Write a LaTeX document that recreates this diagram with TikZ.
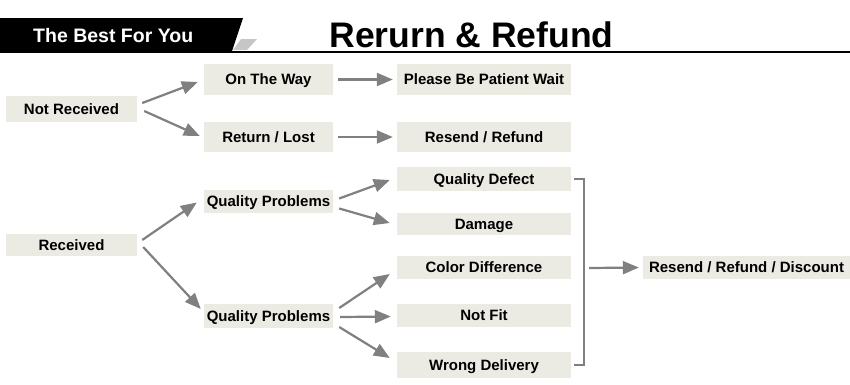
\documentclass[tikz,border=0pt]{standalone}
\usepackage{fontspec}
\setmainfont{Liberation Sans}
\usetikzlibrary{arrows.meta,calc}
\definecolor{boxfill}{HTML}{ECEBE3}
\definecolor{arrgray}{HTML}{808080}
\tikzset{
  box/.style={fill=boxfill, inner sep=0pt, text height=10.7pt, text depth=0pt, font=\fontsize{15}{18}\selectfont\bfseries, text=black},
  arr/.style={draw=arrgray, line width=2.2pt, -{Triangle[length=16pt,width=13pt]}},
  brk/.style={draw=arrgray, line width=1.6pt},
}
\begin{document}
\begin{tikzpicture}[x=1pt,y=-1pt]
\useasboundingbox (0,0) rectangle (850,384);
% header
\fill[black] (0,18) -- (243,18) -- (232,51) -- (0,51) -- cycle;
\fill[gray!45] (241,39) -- (257,39) -- (247,50) -- (233,50) -- cycle;
\draw[black, line width=2pt] (0,51.5) -- (850,51.5);
\node[anchor=base west, inner sep=0pt, text=white, font=\fontsize{19.5}{22}\selectfont\bfseries] (best) at (33,42) {The Best For You};
\node[anchor=base, inner sep=0pt, font=\fontsize{35.5}{40}\selectfont\bfseries] (title) at (471.5,47) {Rerurn \& Refund};
% nodes
\node[box, minimum width=131, minimum height=26] (nr) at (71.5,109) {Not Received};
\node[box, minimum width=129, minimum height=31] (otw) at (268.5,79.5) {On The Way};
\node[box, minimum width=129, minimum height=30] (rl) at (268.5,137) {Return / Lost};
\node[box, minimum width=174, minimum height=31] (pw) at (484,79.5) {Please Be Patient Wait};
\node[box, minimum width=174, minimum height=30] (rr) at (484,137) {Resend / Refund};
\node[box, minimum width=131, minimum height=22] (rc) at (71.5,245) {Received};
\node[box, minimum width=129, minimum height=23] (qp1) at (268.5,201.5) {Quality Problems};
\node[box, minimum width=129, minimum height=24] (qp2) at (268.5,316) {Quality Problems};
\node[box, minimum width=174, minimum height=24] (qd) at (484,179) {Quality Defect};
\node[box, minimum width=174, minimum height=22] (dmg) at (484,224) {Damage};
\node[box, minimum width=174, minimum height=23] (cd) at (484,267.5) {Color Difference};
\node[box, minimum width=174, minimum height=23] (nf) at (484,315.5) {Not Fit};
\node[box, minimum width=174, minimum height=26] (wd) at (484,365) {Wrong Delivery};
\node[box, minimum width=207, minimum height=23] (rf) at (746.5,267.5) {Resend / Refund / Discount};
\coordinate (bm) at (589,268);
% connectors
\draw[arr] ($(nr.east)+(5,-6)$) -- ($(otw.west)+(-6,2.5)$);
\draw[arr] ($(nr.east)+(7,2)$) -- ($(rl.west)+(-4,-1)$);
\draw[arr] ($(otw.east)+(5,0)$) -- ($(pw.west)+(-4,0)$);
\draw[arr] ($(rl.east)+(5,0)$) -- ($(rr.west)+(-4,0)$);
\draw[arr] ($(rc.east)+(5,-5)$) -- ($(qp1.west)+(-7,1)$);
\draw[arr] ($(rc.east)+(6,2)$) -- ($(qp2.west)+(-3,-7)$);
\draw[arr] ($(qp1.east)+(6,-3)$) -- ($(qd.west)+(-7,1)$);
\draw[arr] ($(qp1.east)+(6,7)$) -- ($(dmg.west)+(-7,-1)$);
\draw[arr] ($(qp2.east)+(6,-8)$) -- ($(cd.west)+(-7,6.5)$);
\draw[arr] ($(qp2.east)+(7,1)$) -- ($(nf.west)+(-6,1)$);
\draw[arr] ($(qp2.east)+(6,11)$) -- ($(wd.west)+(-7,-7)$);
\draw[brk] ($(qd.east)+(3,0)$) -- ++(10,0) |- ($(wd.east)+(3,0)$);
\draw[arr] (bm) -- ($(rf.west)+(-4,0)$);
\end{tikzpicture}
\end{document}
